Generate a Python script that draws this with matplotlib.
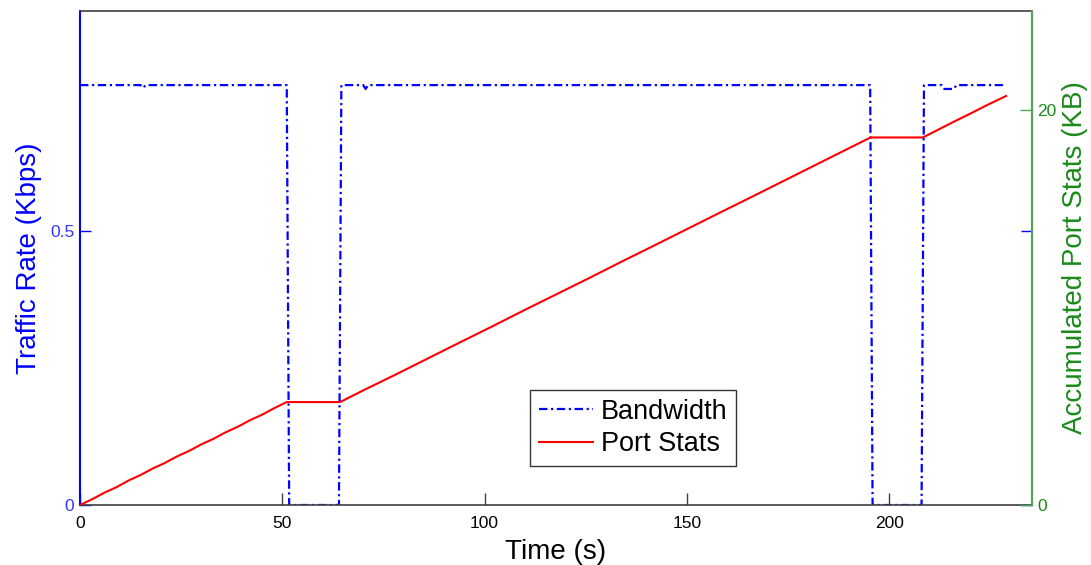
import matplotlib
matplotlib.use("Agg")
import matplotlib.pyplot as plt

plt.rcParams['font.family'] = ['Liberation Sans', 'DejaVu Sans']

# Bandwidth (Kbps)
bw_t = [0, 15, 15.6, 16.2, 51.1, 51.7, 64.0, 64.6, 70.0, 70.6, 71.2,
        195.3, 195.9, 208.0, 208.6, 213, 213.6, 216, 216.6, 228.1]
bw_v = [0.765, 0.765, 0.760, 0.765, 0.765, 0, 0, 0.765, 0.765, 0.758, 0.765,
        0.765, 0, 0, 0.765, 0.765, 0.758, 0.758, 0.765, 0.765]

# Accumulated port stats (KB)
ps_t = [0, 3, 6, 9, 12, 15, 18, 21, 24, 27, 30, 33, 36, 39, 42, 45, 48, 51.1,
        64.3, 70, 78, 86, 94, 102, 110, 118, 126, 134, 142, 150, 158, 166, 174,
        182, 190, 195.4,
        208.3, 212, 216, 220, 224, 228.9]
ps_v = [0, 0.29, 0.62, 0.90, 1.24, 1.52, 1.85, 2.13, 2.46, 2.74, 3.07, 3.35,
        3.68, 3.96, 4.29, 4.57, 4.90, 5.21,
        5.21, 5.80, 6.60, 7.42, 8.24, 9.05, 9.88, 10.69, 11.50, 12.33, 13.14,
        13.96, 14.78, 15.59, 16.41, 17.23, 18.05, 18.60,
        18.60, 18.98, 19.40, 19.80, 20.22, 20.70]

x_ticks = [0, 50, 100, 150, 200]
left_ticks = [0, 0.5]
right_ticks = [0, 20]

BLUE = '#0000FF'
BLUE_TXT = '#3535FF'
GREEN_SP = '#4CA64C'
GREEN_TXT = '#1A8A1A'
GRAY = '#404040'

fig = plt.figure(figsize=(10.91, 5.65), dpi=100)
ax = fig.add_axes([80/1091, 1-505/565, (1032-80)/1091, (505-11)/565])
ax2 = ax.twinx()

l1, = ax.plot(bw_t, bw_v, color=BLUE, lw=1.6, linestyle=(0, (3.8, 1.6, 1, 1.6)),
              label='Bandwidth')
l2, = ax2.plot(ps_t, ps_v, color='#FF0000', lw=1.5, label='Port Stats')

ax.set_xlim(0, 235.3)
ax.set_ylim(0, 0.9)
ax2.set_ylim(0, 25)

ax.set_xticks(x_ticks)
ax.set_yticks(left_ticks)
ax.set_yticklabels(['0', '0.5'])
ax2.set_yticks(right_ticks)

ax.tick_params(axis='x', direction='in', length=9, width=1, colors='black',
               labelsize=12.5, pad=8, color=GRAY)
ax.tick_params(axis='y', direction='in', length=8, width=1, color=BLUE,
               labelcolor=BLUE_TXT, labelsize=12.5, right=True, pad=4)
ax2.tick_params(axis='y', direction='in', length=9, width=1, color=GREEN_SP,
                labelcolor=GREEN_TXT, labelsize=12.5, pad=4)

for s in ['top', 'bottom']:
    ax.spines[s].set_color(GRAY)
    ax.spines[s].set_linewidth(1.2)
ax.spines['left'].set_color(BLUE)
ax.spines['left'].set_linewidth(1.5)
ax.spines['right'].set_visible(False)
ax2.spines['left'].set_visible(False)
ax2.spines['top'].set_visible(False)
ax2.spines['bottom'].set_visible(False)
ax2.spines['right'].set_color(GREEN_SP)
ax2.spines['right'].set_linewidth(1.5)

ax.set_xlabel('Time (s)', fontsize=20, labelpad=6)
ax.set_ylabel('Traffic Rate (Kbps)', fontsize=20, color=BLUE)
ax.yaxis.set_label_coords(-0.040, 0.5)
ax2.set_ylabel('Accumulated Port Stats (KB)', fontsize=20, color=GREEN_TXT)
ax2.yaxis.set_label_coords(1.032, 0.5)

leg = fig.legend(handles=[l1, l2], loc='center',
                 bbox_to_anchor=(633/1091, 1-428/565), fontsize=19.5,
                 frameon=True, fancybox=False, edgecolor='black',
                 handlelength=2.0, handletextpad=0.3, labelspacing=0.25,
                 borderpad=0.3, borderaxespad=0)
leg.get_frame().set_linewidth(1.0)

fig.savefig('out.png', dpi=100)
